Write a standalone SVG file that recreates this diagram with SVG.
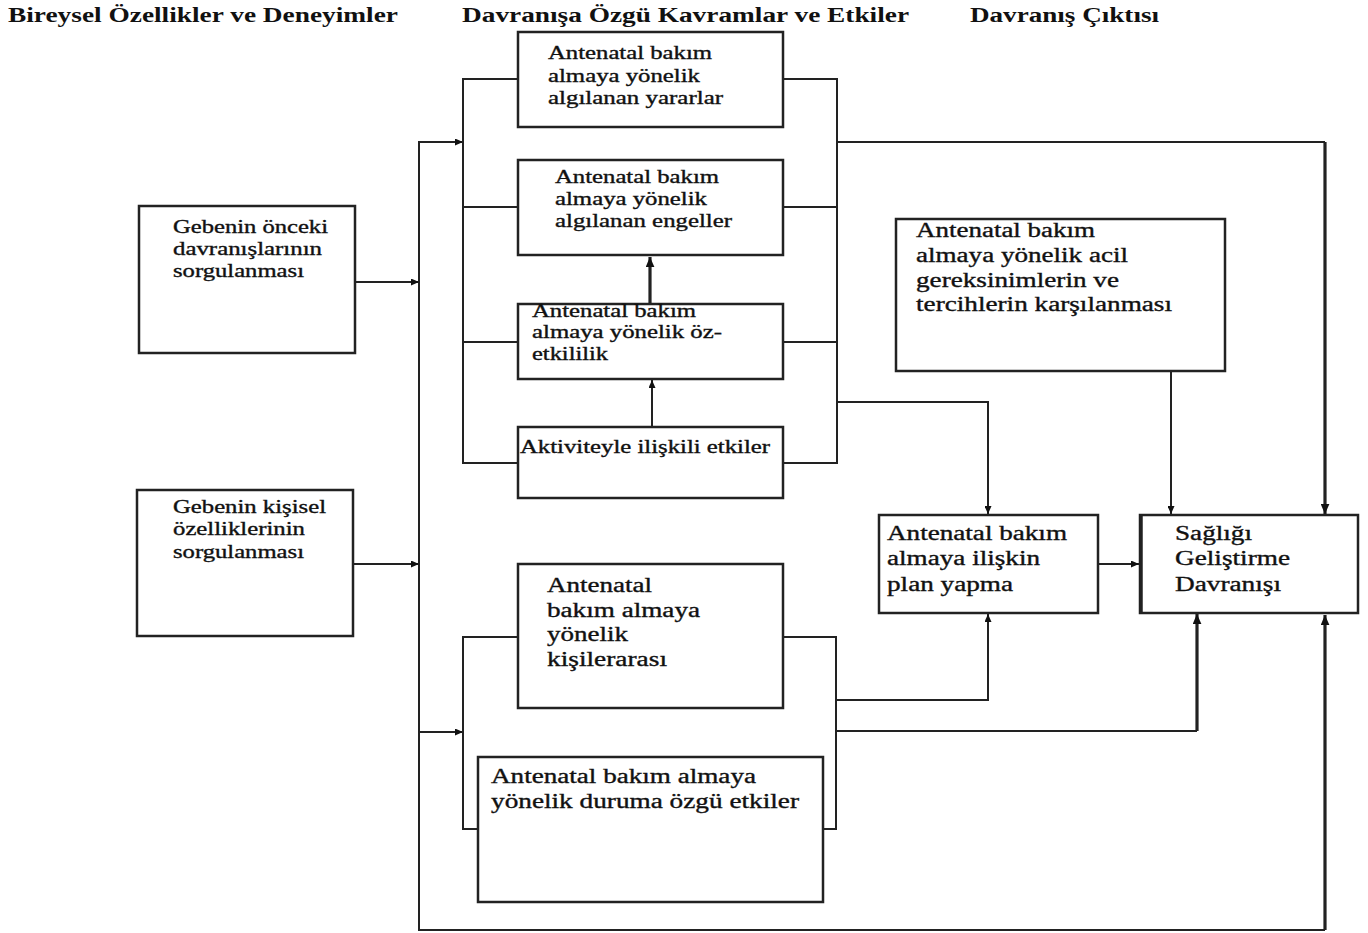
<svg xmlns="http://www.w3.org/2000/svg" width="1368" height="933" viewBox="0 0 1368 933">
<defs>
<style>
.box{fill:#fff;stroke:#222;stroke-width:2.5}
.ln{fill:none;stroke:#222;stroke-width:2}
.thk{fill:none;stroke:#222;stroke-width:3.2}
.hd{font-family:"Liberation Serif",serif;font-weight:bold;font-size:20px;fill:#111}
.t{font-family:"Liberation Serif",serif;font-size:20px;fill:#111;stroke:#111;stroke-width:0.35}
.s{font-size:18px}
</style>
<marker id="ah" viewBox="0 0 8 7" refX="8" refY="3.5" markerWidth="8" markerHeight="7" markerUnits="userSpaceOnUse" orient="auto"><path d="M0,0 L8,3.5 L0,7 z" fill="#111"/></marker>
<marker id="ahb" viewBox="0 0 8 7" refX="8" refY="3.5" markerWidth="10" markerHeight="9" markerUnits="userSpaceOnUse" orient="auto"><path d="M0,0 L8,3.5 L0,7 z" fill="#111"/></marker>
</defs>
<rect width="1368" height="933" fill="#fff"/>
<g id="headers">
<text class="hd" x="8" y="22" textLength="390" lengthAdjust="spacingAndGlyphs">Bireysel Özellikler ve Deneyimler</text>
<text class="hd" x="462" y="22" textLength="447" lengthAdjust="spacingAndGlyphs">Davranışa Özgü Kavramlar ve Etkiler</text>
<text class="hd" x="970" y="22" textLength="189" lengthAdjust="spacingAndGlyphs">Davranış Çıktısı</text>
</g>
<g id="connectors">
<path class="ln" d="M463,142 H419 V930 H1325"/>
<path class="ln" d="M419,142 H463" marker-end="url(#ah)"/>
<path class="thk" d="M1325,930 V615" marker-end="url(#ahb)"/>
<path class="ln" d="M355,282 H419" marker-end="url(#ah)"/>
<path class="ln" d="M353,564 H419" marker-end="url(#ah)"/>
<path class="ln" d="M518,79 H463 V463 H518 M463,207 H518 M463,342 H518"/>
<path class="ln" d="M783,79 H837 V463 H783 M837,207 H783 M837,342 H783"/>
<path class="ln" d="M652,427 V380" marker-end="url(#ah)"/>
<path class="thk" d="M650,304 V257" marker-end="url(#ahb)"/>
<path class="ln" d="M837,142 H1325"/>
<path class="thk" d="M1325,142 V514" marker-end="url(#ahb)"/>
<path class="ln" d="M837,402 H988 V514" marker-end="url(#ah)"/>
<path class="ln" d="M1171,371 V514" marker-end="url(#ah)"/>
<path class="ln" d="M1098,564 H1139" marker-end="url(#ah)"/>
<path class="ln" d="M419,732 H463" marker-end="url(#ah)"/>
<path class="ln" d="M518,637 H463 V829 H478"/>
<path class="ln" d="M783,637 H836 V829 H823"/>
<path class="ln" d="M836,700 H988 V614" marker-end="url(#ah)"/>
<path class="ln" d="M836,731 H1197"/>
<path class="thk" d="M1197,731 V614" marker-end="url(#ahb)"/>
</g>
<g id="n-yararlar">
<rect class="box" x="518" y="32" width="265" height="95"/>
<text class="t s" x="548" y="59" textLength="164" lengthAdjust="spacingAndGlyphs">Antenatal bakım</text>
<text class="t s" x="548" y="82" textLength="152" lengthAdjust="spacingAndGlyphs">almaya yönelik</text>
<text class="t s" x="548" y="104" textLength="175" lengthAdjust="spacingAndGlyphs">algılanan yararlar</text>
</g>
<g id="n-engeller">
<rect class="box" x="518" y="160" width="265" height="95"/>
<text class="t s" x="555" y="183" textLength="164" lengthAdjust="spacingAndGlyphs">Antenatal bakım</text>
<text class="t s" x="555" y="205" textLength="152" lengthAdjust="spacingAndGlyphs">almaya yönelik</text>
<text class="t s" x="555" y="227" textLength="177" lengthAdjust="spacingAndGlyphs">algılanan engeller</text>
</g>
<g id="n-ozetkililik">
<rect class="box" x="518" y="304" width="265" height="75"/>
<text class="t s" x="532" y="317" textLength="164" lengthAdjust="spacingAndGlyphs">Antenatal bakım</text>
<text class="t s" x="532" y="338" textLength="190" lengthAdjust="spacingAndGlyphs">almaya yönelik öz-</text>
<text class="t s" x="532" y="360" textLength="76" lengthAdjust="spacingAndGlyphs">etkililik</text>
</g>
<g id="n-aktivite">
<rect class="box" x="518" y="427" width="265" height="71"/>
<text class="t s" x="520" y="453" textLength="250" lengthAdjust="spacingAndGlyphs">Aktiviteyle ilişkili etkiler</text>
</g>
<g id="n-onceki">
<rect class="box" x="139" y="206" width="216" height="147"/>
<text class="t s" x="173" y="233" textLength="155" lengthAdjust="spacingAndGlyphs">Gebenin önceki</text>
<text class="t s" x="173" y="255" textLength="149" lengthAdjust="spacingAndGlyphs">davranışlarının</text>
<text class="t s" x="173" y="277" textLength="131" lengthAdjust="spacingAndGlyphs">sorgulanması</text>
</g>
<g id="n-kisisel">
<rect class="box" x="137" y="490" width="216" height="146"/>
<text class="t s" x="173" y="513" textLength="153" lengthAdjust="spacingAndGlyphs">Gebenin kişisel</text>
<text class="t s" x="173" y="535" textLength="132" lengthAdjust="spacingAndGlyphs">özelliklerinin</text>
<text class="t s" x="173" y="558" textLength="131" lengthAdjust="spacingAndGlyphs">sorgulanması</text>
</g>
<g id="n-kisilerarasi">
<rect class="box" x="518" y="564" width="265" height="144"/>
<text class="t" x="547" y="592" textLength="105" lengthAdjust="spacingAndGlyphs">Antenatal</text>
<text class="t" x="547" y="617" textLength="153" lengthAdjust="spacingAndGlyphs">bakım almaya</text>
<text class="t" x="547" y="641" textLength="81" lengthAdjust="spacingAndGlyphs">yönelik</text>
<text class="t" x="547" y="666" textLength="120" lengthAdjust="spacingAndGlyphs">kişilerarası</text>
</g>
<g id="n-durum">
<rect class="box" x="478" y="757" width="345" height="145"/>
<text class="t" x="491" y="783" textLength="265" lengthAdjust="spacingAndGlyphs">Antenatal bakım almaya</text>
<text class="t" x="491" y="808" textLength="308" lengthAdjust="spacingAndGlyphs">yönelik duruma özgü etkiler</text>
</g>
<g id="n-acil">
<rect class="box" x="896" y="219" width="329" height="152"/>
<text class="t" x="916" y="237" textLength="179" lengthAdjust="spacingAndGlyphs">Antenatal bakım</text>
<text class="t" x="916" y="262" textLength="212" lengthAdjust="spacingAndGlyphs">almaya yönelik acil</text>
<text class="t" x="916" y="287" textLength="203" lengthAdjust="spacingAndGlyphs">gereksinimlerin ve</text>
<text class="t" x="916" y="311" textLength="256" lengthAdjust="spacingAndGlyphs">tercihlerin karşılanması</text>
</g>
<g id="n-plan">
<rect class="box" x="879" y="515" width="219" height="98"/>
<text class="t" x="887" y="540" textLength="180" lengthAdjust="spacingAndGlyphs">Antenatal bakım</text>
<text class="t" x="887" y="565" textLength="153" lengthAdjust="spacingAndGlyphs">almaya ilişkin</text>
<text class="t" x="887" y="591" textLength="126" lengthAdjust="spacingAndGlyphs">plan yapma</text>
</g>
<g id="n-saglik">
<rect class="box" x="1140" y="515" width="218" height="98"/>
<path d="M1141,515 V613" stroke="#222" stroke-width="3.5"/>
<text class="t" x="1175" y="540" textLength="77" lengthAdjust="spacingAndGlyphs">Sağlığı</text>
<text class="t" x="1175" y="565" textLength="115" lengthAdjust="spacingAndGlyphs">Geliştirme</text>
<text class="t" x="1175" y="591" textLength="106" lengthAdjust="spacingAndGlyphs">Davranışı</text>
</g>
</svg>
